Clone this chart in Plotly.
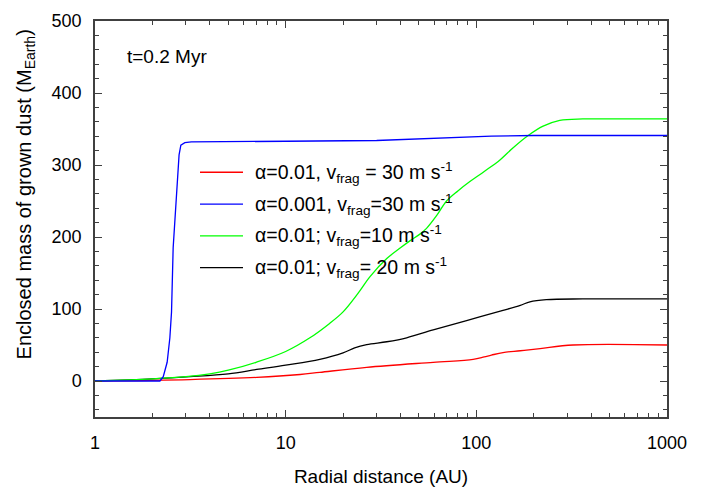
import plotly.graph_objects as go

# Enclosed mass of grown dust vs. radius at t = 0.2 Myr for four disc models
red_r = [1, 3.15, 7.05, 11.9, 15.1, 26.6, 59.4, 96.2, 110, 120, 138, 170, 216, 322, 1000]
red_m = [0, 2, 5, 9, 12, 19, 26, 30, 33.5, 36, 39.5, 42, 45, 50, 50]

blue_r = [1, 1.5, 2.0, 2.19, 2.28, 2.39, 2.47, 2.52, 2.57, 2.63, 2.69, 2.76,
          2.82, 2.96, 3.2, 5, 10, 30, 50, 80, 120, 200, 400, 1000]
blue_m = [0, 0, 0, 0, 6, 26, 60, 96, 185, 229, 265, 314,
          327.6, 331, 332, 332, 333, 334, 336, 338.5, 340, 341, 341, 341]

green_r = [1, 2, 3, 4, 5, 7, 10, 13.4, 17, 20, 24, 27.7, 33.9, 40, 45, 50.6,
           54.8, 62, 69.8, 80, 92.5, 110, 133, 156, 187, 224, 274, 362, 500, 1000]
green_m = [0, 3, 6, 10, 15, 26, 41, 60, 80, 96, 122, 145, 170, 185, 195, 204,
           212, 230, 250, 264, 277, 291, 307, 324, 341, 354, 362, 364, 364, 364]

black_r = [1, 2, 3.15, 5, 7.05, 10, 15.1, 20, 23, 26.6, 33.9, 43.1, 59.4, 88.9,
           138, 170, 191, 233, 362, 1000]
black_m = [0, 3, 6, 10, 16, 22, 30, 39, 46, 50.5, 54.5, 60, 71, 84,
           98, 105, 110, 113, 114, 114]

labels = [
    "\u03b1=0.01, v<sub>frag</sub> = 30 m s<sup>-1</sup>",
    "\u03b1=0.001, v<sub>frag</sub>=30 m s<sup>-1</sup>",
    "\u03b1=0.01; v<sub>frag</sub>=10 m s<sup>-1</sup>",
    "\u03b1=0.01; v<sub>frag</sub>= 20 m s<sup>-1</sup>",
]
colors = ["#FF0000", "#0000FF", "#00FF00", "#000000"]
series = [(red_r, red_m), (blue_r, blue_m), (green_r, green_m), (black_r, black_m)]

FONT = "Liberation Sans, Arial, sans-serif"
FS = 18
AXC = "#404040"

fig = go.Figure()
# black drawn first so the coloured curves sit on top near the origin
order = [3, 0, 2, 1]
for i in order:
    r, m = series[i]
    fig.add_trace(go.Scatter(
        x=r, y=m, mode="lines", name=labels[i], showlegend=False,
        line=dict(color=colors[i], width=1.3,
                  shape="linear" if i == 1 else "spline", smoothing=1.0),
    ))

# Legend drawn as line samples plus text, in paper coordinates
W, H = 713 - 95 - 46, 495 - 11 - 73
leg_x0, leg_x1, leg_text = 200, 243, 253
leg_y = [168, 201, 234, 267]
for lab, col, yp in zip(labels, colors, leg_y):
    yy = (422 - yp) / H
    fig.add_shape(type="line", xref="paper", yref="paper",
                  x0=(leg_x0 - 95) / W, x1=(leg_x1 - 95) / W, y0=yy, y1=yy,
                  line=dict(color=col, width=1.3))
    fig.add_annotation(x=(leg_text - 95) / W, y=yy, xref="paper", yref="paper",
                       text=lab, showarrow=False, xanchor="left", yanchor="middle",
                       font=dict(family=FONT, size=19.5, color="black"))

fig.add_annotation(x=(125 - 95) / W, y=(422 - 48) / H, xref="paper", yref="paper",
                   text="t=0.2 Myr", showarrow=False, xanchor="left", yanchor="middle",
                   font=dict(family=FONT, size=19, color="black"))

fig.add_annotation(x=(25 - 95) / W, y=(422 - 191) / H, xref="paper", yref="paper",
                   text="Enclosed mass of grown dust (M<sub>Earth</sub>)",
                   textangle=-90, showarrow=False, xanchor="center", yanchor="middle",
                   font=dict(family=FONT, size=20, color="black"))

fig.update_xaxes(
    type="log", range=[0, 3], tickvals=[1, 10, 100, 1000], ticktext=["1", "10", "100", "1000"],
    ticks="inside", ticklen=7, tickwidth=1.2, tickcolor=AXC,
    minor=dict(ticks="inside", ticklen=4, tickwidth=1, tickcolor=AXC, dtick="D1", showgrid=False),
    showline=True, linecolor=AXC, linewidth=1.5, mirror="allticks",
    showgrid=False, zeroline=False, ticklabelstandoff=9,
    tickfont=dict(family=FONT, size=FS, color="black"),
    title=dict(text="Radial distance (AU)", standoff=17,
               font=dict(family=FONT, size=19, color="black")),
)
fig.update_yaxes(
    range=[-50, 500], tick0=0, dtick=100, tickvals=[0, 100, 200, 300, 400, 500],
    ticks="inside", ticklen=7, tickwidth=1.2, tickcolor=AXC,
    minor=dict(ticks="inside", ticklen=4, tickwidth=1, tickcolor=AXC, tick0=0, dtick=20, showgrid=False),
    showline=True, linecolor=AXC, linewidth=1.5, mirror="allticks",
    showgrid=False, zeroline=False, ticklabelstandoff=8,
    tickfont=dict(family=FONT, size=FS, color="black"),
)

fig.update_layout(
    width=713, height=495,
    margin=dict(l=95, r=46, t=11, b=73),
    paper_bgcolor="white", plot_bgcolor="white",
    font=dict(family=FONT, size=FS, color="black"),
)

fig.write_html("out.html")
